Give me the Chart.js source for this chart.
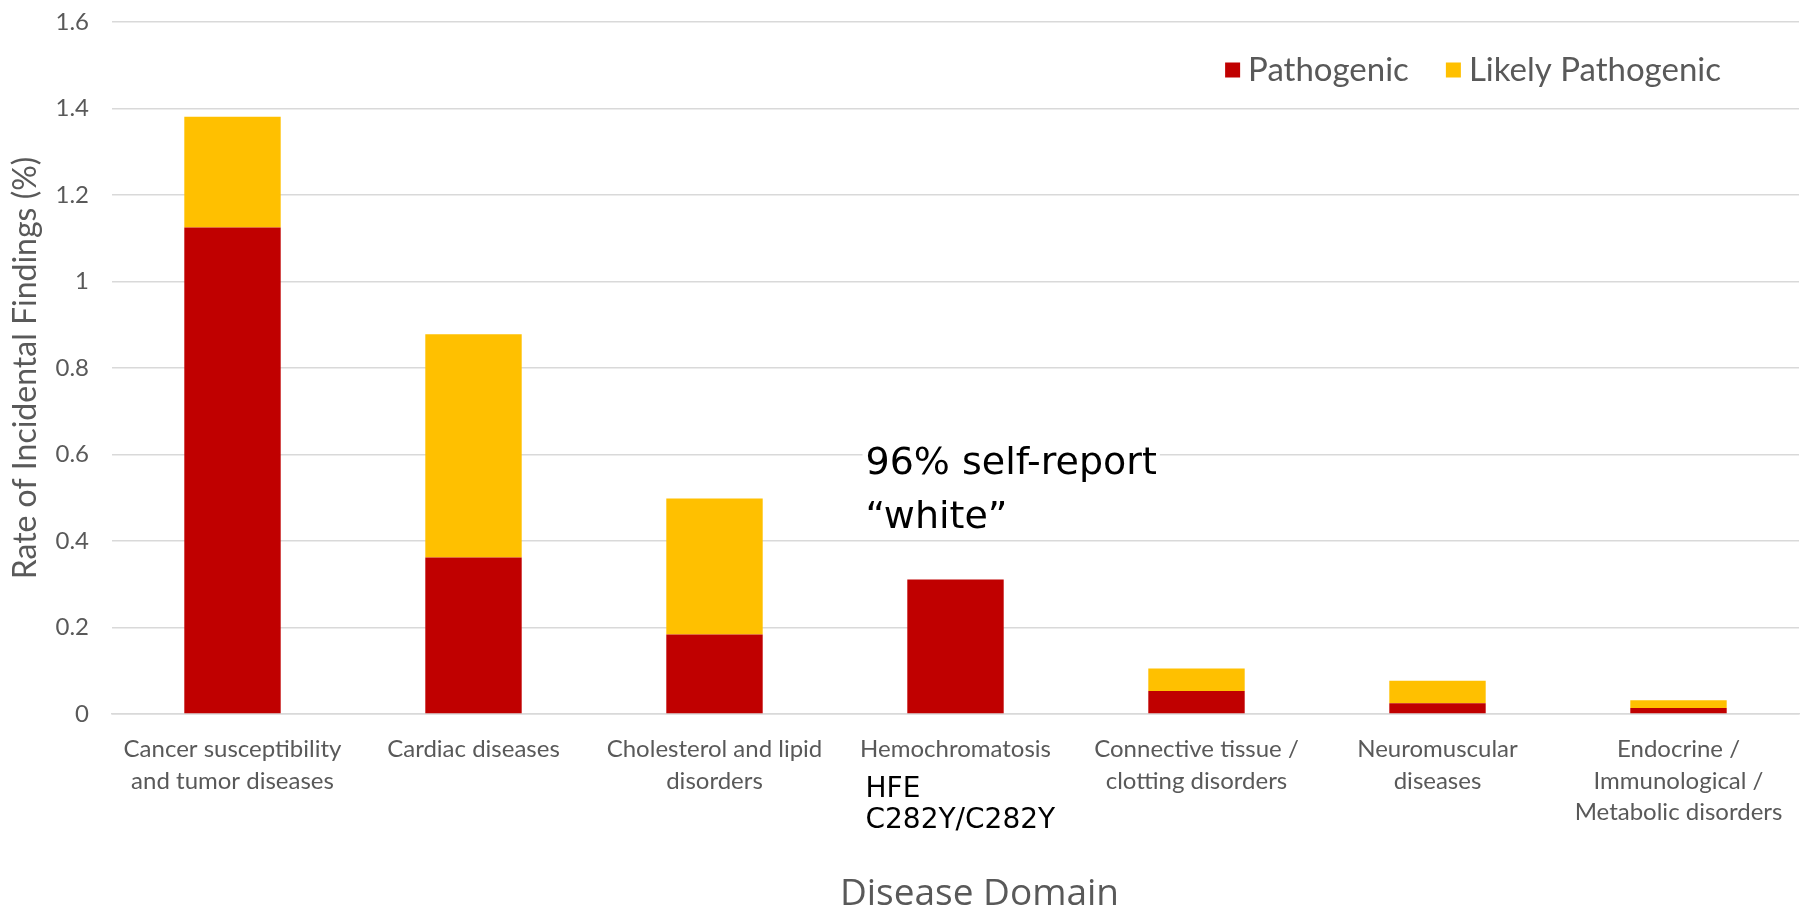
<!DOCTYPE html>
<html>
<head>
<meta charset="utf-8">
<script src="https://cdn.jsdelivr.net/npm/chart.js@4.4.1/dist/chart.umd.min.js"></script>
<style>
  html, body { margin: 0; padding: 0; background: #fff; }
  #wrap { width: 1810px; height: 910px; }
</style>
</head>
<body>
<div id="wrap"><canvas id="findingsChart" width="1810" height="910"></canvas></div>
<script>
// Disease domains along the x axis (multi-line labels)
const domains = [
  ['Cancer susceptibility', 'and tumor diseases'],
  'Cardiac diseases',
  ['Cholesterol and lipid', 'disorders'],
  'Hemochromatosis',
  ['Connective tissue /', 'clotting disorders'],
  ['Neuromuscular', 'diseases'],
  ['Endocrine /', 'Immunological /', 'Metabolic disorders']
];

// Rate of incidental findings (%), stacked
const pathogenic = [1.125, 0.362, 0.184, 0.311, 0.053, 0.025, 0.014];
const likelyPathogenic = [0.256, 0.516, 0.314, 0, 0.052, 0.052, 0.018];

const yMax = 1.6;
const yStep = 0.2;

const xTitle = 'Disease Domain';
const yTitle = 'Rate of Incidental Findings (%)';

// Notes placed next to the hemochromatosis bar
const calloutLines = ['96% self-report', '\u201Cwhite\u201D'];
const calloutValues = [0.555, 0.430];
const variantLines = ['HFE', 'C282Y/C282Y'];
const noteIndex = 3;

const colors = {
  red: '#c00000',
  gold: '#ffc000',
  text: '#595959',
  grid: '#d9d9d9'
};

// Legend drawn inside the plot area, top right
const cornerLegend = {
  id: 'cornerLegend',
  afterDraw(chart) {
    const { ctx, chartArea } = chart;
    const box = 15, gap = 8, itemGap = 37;
    const cy = 70;
    ctx.save();
    ctx.font = '33px Lato';
    ctx.textBaseline = 'middle';
    ctx.textAlign = 'left';
    let right = chartArea.right - 78;
    const items = chart.data.datasets.slice().reverse();
    items.forEach(ds => {
      const w = ctx.measureText(ds.label).width;
      const textX = right - w;
      const boxX = textX - gap - box;
      ctx.fillStyle = ds.backgroundColor;
      ctx.fillRect(boxX, cy - box / 2, box, box);
      ctx.fillStyle = colors.text;
      ctx.fillText(ds.label, textX, cy);
      right = boxX - itemGap;
    });

    // x axis title, a little right of the plot centre
    ctx.font = '37px "Open Sans"';
    ctx.textAlign = 'center';
    ctx.textBaseline = 'alphabetic';
    ctx.fillText(xTitle, (chartArea.left + chartArea.right) / 2 + 24, 905);
    ctx.restore();
  }
};

const notes = {
  id: 'notes',
  afterDatasetsDraw(chart) {
    const { ctx, scales: { x, y } } = chart;
    const left = x.getPixelForValue(noteIndex) - 90;
    const top = y.getPixelForValue(calloutValues[0]) - 36;
    const bottom = y.getPixelForValue(calloutValues[1]) + 10;
    ctx.save();
    // text box with white fill hides the gridline behind it
    ctx.font = '38px "DejaVu Sans"';
    const boxW = ctx.measureText(calloutLines[0]).width + 6;
    ctx.fillStyle = '#fff';
    ctx.fillRect(left - 3, top, boxW, bottom - top);
    ctx.fillStyle = '#000';
    ctx.textAlign = 'left';
    ctx.textBaseline = 'alphabetic';
    calloutLines.forEach((t, i) => ctx.fillText(t, left, y.getPixelForValue(calloutValues[i])));
    ctx.font = '28px "DejaVu Sans"';
    variantLines.forEach((t, i) => ctx.fillText(t, left, y.bottom + 83 + i * 31));
    ctx.restore();
  }
};

const ctx = document.getElementById('findingsChart').getContext('2d');

new Chart(ctx, {
  type: 'bar',
  data: {
    labels: domains,
    datasets: [
      {
        label: 'Pathogenic',
        data: pathogenic,
        backgroundColor: colors.red,
        barPercentage: 0.4,
        categoryPercentage: 1
      },
      {
        label: 'Likely Pathogenic',
        data: likelyPathogenic,
        backgroundColor: colors.gold,
        barPercentage: 0.4,
        categoryPercentage: 1
      }
    ]
  },
  options: {
    responsive: false,
    animation: false,
    layout: { padding: { top: 22, right: 11, left: 0, bottom: 0 } },
    plugins: {
      legend: { display: false },
      tooltip: { enabled: false }
    },
    scales: {
      x: {
        stacked: true,
        grid: { display: false },
        border: { color: colors.grid, width: 1.5 },
        ticks: {
          color: colors.text,
          font: { family: 'Lato', size: 24, lineHeight: 1.3 },
          padding: 12,
          maxRotation: 0,
          autoSkip: false
        },
        afterFit(scale) { scale.height = 196; }
      },
      y: {
        stacked: true,
        min: 0,
        max: yMax,
        ticks: {
          stepSize: yStep,
          color: colors.text,
          font: { family: 'Lato', size: 24 },
          padding: 3,
          callback: v => String(Number(v.toFixed(1)))
        },
        grid: {
          color: colors.grid,
          lineWidth: 1.5,
          drawTicks: true,
          tickLength: 20,
          tickColor: 'transparent'
        },
        border: { display: false },
        title: {
          display: true,
          text: yTitle,
          color: colors.text,
          font: { family: 'Lato', size: 32 },
          padding: { top: 6 }
        },
        afterFit(scale) { scale.width = 112; }
      }
    }
  },
  plugins: [notes, cornerLegend]
});
</script>
</body>
</html>
